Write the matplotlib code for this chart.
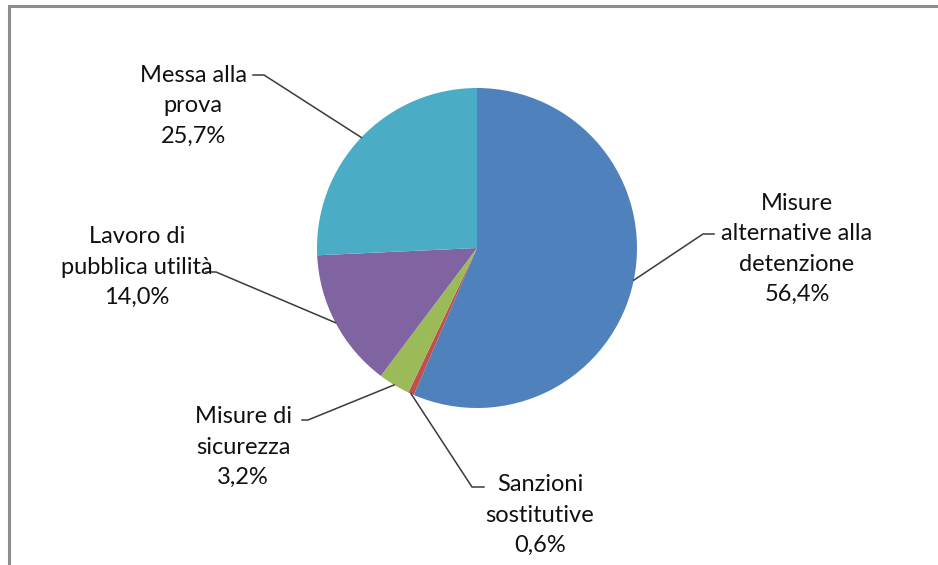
import numpy as np
import matplotlib
matplotlib.use("Agg")
import matplotlib.pyplot as plt
from matplotlib.patches import Rectangle

labels = ["Misure\nalternative alla\ndetenzione", "Sanzioni\nsostitutive",
          "Misure di\nsicurezza", "Lavoro di\npubblica utilità", "Messa alla\nprova"]
values = [56.4, 0.6, 3.2, 14.0, 25.7]
colors = ["#4F81BD", "#C0504D", "#9BBB59", "#8064A2", "#4BACC6"]

W, H = 938, 565
plt.rcParams['font.family'] = ['Lato', 'DejaVu Sans']

fig = plt.figure(figsize=(W / 100, H / 100), dpi=100)
ax = fig.add_axes([0, 0, 1, 1])

# chart border (cut by image edges on right and bottom)
ax.add_patch(Rectangle((9, -10), W + 20, H - 6 + 10, fill=False,
                       edgecolor='#8c8c8c', linewidth=2.2))

cx, cy, r = 477, H - 248, 160
wedges, _ = ax.pie(values, colors=colors, startangle=90, counterclock=False,
                   center=(cx, cy), radius=r, frame=True,
                   wedgeprops=dict(linewidth=0))
ax.set_xlim(0, W)
ax.set_ylim(0, H)
ax.set_aspect('equal')
ax.axis('off')

# label text centre (px), elbow (px), end of short horizontal (px)
text_pos = [(797, 249), (540, 515), (243, 447), (137, 267), (193, 106)]
elbow = [(703, 234), (472, 487), (308, 420), (216, 272), (264, 75)]
tail = [(714, 234), (484, 487), (302, 420), (206, 272), (253, 75)]

for w, lab, v, tp, el, tl in zip(wedges, labels, values, text_pos, elbow, tail):
    ang = np.deg2rad((w.theta1 + w.theta2) / 2)
    px, py = cx + r * np.cos(ang), cy + r * np.sin(ang)
    ax.plot([px, el[0], tl[0]], [py, H - el[1], H - tl[1]],
            color='#3a3a3a', linewidth=1.1)
    txt = lab + "\n" + f"{v:.1f}".replace('.', ',') + "%"
    ax.text(tp[0], H - tp[1], txt, ha='center', va='center', fontsize=17,
            color='#111111', linespacing=1.55)

fig.savefig("out.png", dpi=100)
